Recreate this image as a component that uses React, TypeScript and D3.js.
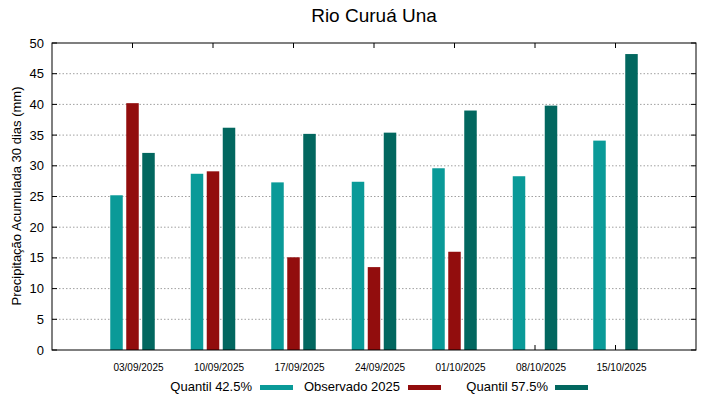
import React from "react";
import * as d3 from "d3";

const categories = ["03/09/2025", "10/09/2025", "17/09/2025", "24/09/2025", "01/10/2025", "08/10/2025", "15/10/2025"];
const q425: (number | null)[] = [25.2, 28.7, 27.3, 27.4, 29.6, 28.3, 34.1];
const obs2025: (number | null)[] = [40.2, 29.1, 15.1, 13.5, 16.0, null, null];
const q575: (number | null)[] = [32.1, 36.2, 35.2, 35.4, 39.0, 39.8, 48.2];
const yTicks = [0, 5, 10, 15, 20, 25, 30, 35, 40, 45, 50];

const series = [
  { name: "Quantil 42.5%", values: q425, color: "#0a9a98", offset: -1 },
  { name: "Observado 2025", values: obs2025, color: "#920d0d", offset: 0 },
  { name: "Quantil 57.5%", values: q575, color: "#02675f", offset: 1 },
];

export default function App() {
  const W = 719, H = 399;
  const L = 52, R = 696, T = 43, B = 350;
  const x = d3.scaleLinear().domain([-1, 7]).range([L, R]);
  const y = d3.scaleLinear().domain([0, 50]).range([B, T]);
  const bw = 12.5, step = 16;
  const font = "'Liberation Sans', Arial, sans-serif";
  const legend = [
    { textEnd: 252, sx: 260 },
    { textEnd: 400, sx: 408 },
    { textEnd: 548, sx: 555 },
  ];
  return (
    <svg width={W} height={H} style={{ position: "absolute", left: 0, top: 0, background: "#fff" }} fontFamily={font}>
      <rect x={0} y={0} width={W} height={H} fill="#fff" />
      <text x={374} y={22} textAnchor="middle" fontSize={19}>Rio Curuá Una</text>
      {yTicks.map((t) => (
        <g key={t}>
          {t > 0 && t < 50 && (
            <line x1={L} x2={R} y1={y(t)} y2={y(t)} stroke="#a0a0a0" strokeWidth={1} strokeDasharray="1.5,2" />
          )}
          <line x1={L} x2={L + 5} y1={y(t)} y2={y(t)} stroke="#000" />
          <line x1={R - 5} x2={R} y1={y(t)} y2={y(t)} stroke="#000" />
          <text x={44} y={y(t) + 4.5} textAnchor="end" fontSize={13}>{t}</text>
        </g>
      ))}
      {categories.map((c, i) => (
        <g key={c}>
          <line x1={x(i)} x2={x(i)} y1={B} y2={B - 5} stroke="#000" />
          <line x1={x(i)} x2={x(i)} y1={T} y2={T + 5} stroke="#000" />
          <text x={x(i) + 6} y={371} textAnchor="middle" fontSize={10}>{c}</text>
        </g>
      ))}
      {series.map((s) =>
        s.values.map((v, i) =>
          v == null ? null : (
            <rect key={s.name + i} x={x(i) + s.offset * step - bw / 2} y={y(v)} width={bw} height={B - y(v)} fill={s.color} />
          )
        )
      )}
      <rect x={L} y={T} width={R - L} height={B - T} fill="none" stroke="#000" strokeWidth={1} />
      <text transform={`translate(21,196) rotate(-90)`} textAnchor="middle" fontSize={13}>
        Precipitação Acumulada 30 dias (mm)
      </text>
      {series.map((s, k) => (
        <g key={s.name}>
          <text x={legend[k].textEnd} y={391} textAnchor="end" fontSize={13}>{s.name}</text>
          <rect x={legend[k].sx} y={385} width={33} height={5} fill={s.color} />
        </g>
      ))}
    </svg>
  );
}
